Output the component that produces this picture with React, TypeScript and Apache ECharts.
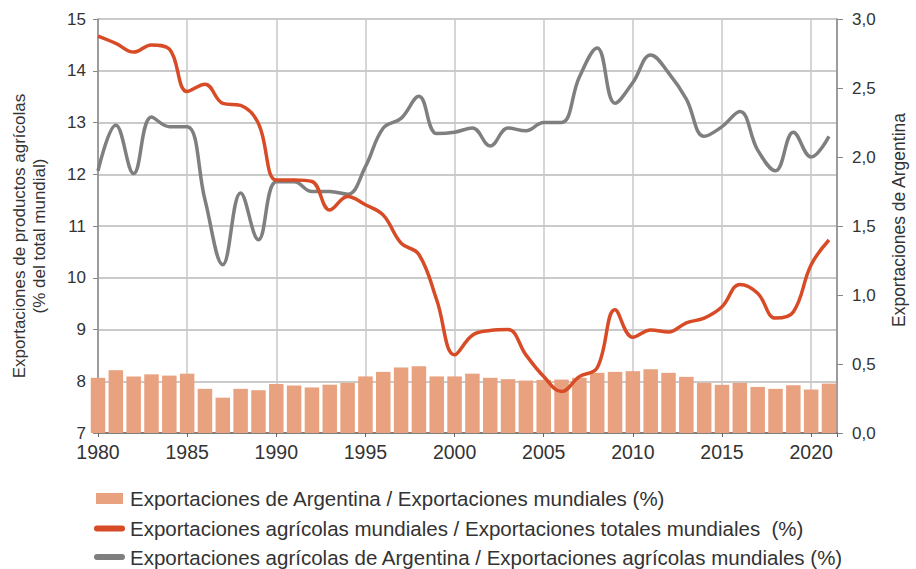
import React, { useEffect, useRef } from "react";
import * as echarts from "echarts";

const years = [
  1980, 1981, 1982, 1983, 1984, 1985, 1986, 1987, 1988, 1989,
  1990, 1991, 1992, 1993, 1994, 1995, 1996, 1997, 1998, 1999,
  2000, 2001, 2002, 2003, 2004, 2005, 2006, 2007, 2008, 2009,
  2010, 2011, 2012, 2013, 2014, 2015, 2016, 2017, 2018, 2019,
  2020, 2021,
];

// Exportaciones de Argentina / Exportaciones mundiales (%) — right axis
const argShare = [
  0.40, 0.455, 0.41, 0.425, 0.416, 0.43, 0.32, 0.256, 0.32, 0.31,
  0.355, 0.344, 0.33, 0.35, 0.363, 0.41, 0.443, 0.474, 0.484, 0.41,
  0.41, 0.43, 0.40, 0.39, 0.38, 0.385, 0.387, 0.40, 0.436, 0.443,
  0.448, 0.462, 0.436, 0.407, 0.363, 0.349, 0.363, 0.334, 0.32, 0.346,
  0.315, 0.358,
];

// Exportaciones agrícolas mundiales / Exportaciones totales mundiales (%) — left axis
const worldAgShare = [
  14.67, 14.53, 14.36, 14.5, 14.42, 13.6, 13.74, 13.37, 13.33, 12.98,
  11.89, 11.89, 11.86, 11.31, 11.57, 11.41, 11.21, 10.67, 10.45, 9.57,
  8.51, 8.89, 8.98, 9.0, 8.51, 8.09, 7.8, 8.09, 8.26, 9.38,
  8.85, 8.99, 8.95, 9.13, 9.22, 9.44, 9.87, 9.7, 9.22, 9.34,
  10.25, 10.73,
];

// Exportaciones agrícolas de Argentina / Exportaciones agrícolas mundiales (%) — right axis
const argAgShare = [
  1.9, 2.23, 1.88, 2.29, 2.22, 2.22, 1.69, 1.22, 1.74, 1.4,
  1.82, 1.82, 1.75, 1.75, 1.73, 1.93, 2.21, 2.28, 2.44, 2.17,
  2.18, 2.21, 2.08, 2.21, 2.19, 2.25, 2.25, 2.58, 2.79, 2.39,
  2.54, 2.74, 2.61, 2.42, 2.15, 2.22, 2.33, 2.05, 1.9, 2.18,
  2.0, 2.15,
];

const seriesNames = [
  "Exportaciones de Argentina / Exportaciones mundiales (%)",
  "Exportaciones agrícolas mundiales / Exportaciones totales mundiales  (%)",
  "Exportaciones agrícolas de Argentina / Exportaciones agrícolas mundiales (%)",
];

const leftAxisName = "Exportaciones de productos agrícolas\n(% del total mundial)";
const rightAxisName = "Exportaciones de Argentina";

const FONT = "'Liberation Sans', Arial, sans-serif";
const TEXT = "#333333";
const BAR = "#e8a27f";
const RED = "#d84b27";
const GRAY = "#7f7f7f";
const LINE_ICON = "path://M3,0 L28,0 A3,3 0 0 1 28,6 L3,6 A3,3 0 0 1 3,0 Z";

export default function App() {
  const ref = useRef<HTMLDivElement>(null);
  useEffect(() => {
    if (!ref.current) return;
    const chart = echarts.init(ref.current, null, { renderer: "svg" });
    const pair = (vals: number[]) => years.map((y, i) => [y, vals[i]]);
    const legendText = { fontFamily: FONT, fontSize: 20.5, color: TEXT, lineHeight: 21 };
    chart.setOption({
      animation: false,
      textStyle: { fontFamily: FONT, color: TEXT },
      grid: { left: 98, right: 67, top: 19, bottom: 136 },
      legend: [
        {
          left: 91,
          top: 483,
          itemWidth: 27,
          itemHeight: 11,
          textStyle: { ...legendText, padding: [0, 0, 0, 2] },
          data: [{ name: seriesNames[0], icon: "rect" }],
        },
        {
          left: 89,
          top: 513,
          itemWidth: 31,
          itemHeight: 6,
          textStyle: { ...legendText, padding: [0, 0, 0, 0] },
          data: [{ name: seriesNames[1], icon: LINE_ICON }],
        },
        {
          left: 89,
          top: 541.5,
          itemWidth: 31,
          itemHeight: 6,
          textStyle: { ...legendText, padding: [0, 0, 0, 0] },
          data: [{ name: seriesNames[2], icon: LINE_ICON }],
        },
      ],
      xAxis: {
        type: "value",
        min: 1980,
        max: 2021.45,
        interval: 5,
        axisLine: { show: true, lineStyle: { color: "#666", width: 1.5 } },
        axisTick: { show: true, length: 4, lineStyle: { color: "#666" } },
        axisLabel: {
          fontFamily: FONT,
          fontSize: 19.5,
          color: TEXT,
          margin: 9,
          formatter: (v: number) => (Number.isInteger(v) && v % 5 === 0 ? String(v) : ""),
        },
        splitLine: { show: true, lineStyle: { color: "#c8c8c8", width: 1.5 } },
      },
      yAxis: [
        {
          type: "value",
          min: 7,
          max: 15,
          interval: 1,
          position: "left",
          name: leftAxisName,
          nameLocation: "middle",
          nameGap: 49,
          nameTextStyle: { fontFamily: FONT, fontSize: 17, color: TEXT, lineHeight: 20, padding: [0, 20, 0, 0] },
          axisLine: { show: true, lineStyle: { color: "#888", width: 1.5 } },
          axisTick: { show: true, length: 5, lineStyle: { color: "#888" } },
          axisLabel: { fontFamily: FONT, fontSize: 17, color: TEXT, margin: 12 },
          splitLine: { show: true, lineStyle: { color: "#b8b8b8", width: 1.5 } },
        },
        {
          type: "value",
          min: 0,
          max: 3,
          interval: 0.5,
          position: "right",
          name: rightAxisName,
          nameLocation: "middle",
          nameGap: 53,
          nameTextStyle: { fontFamily: FONT, fontSize: 17.5, color: TEXT, padding: [0, 0, 0, 12] },
          axisLine: { show: true, lineStyle: { color: "#888", width: 1.5 } },
          axisTick: { show: true, length: 6, lineStyle: { color: "#888" } },
          axisLabel: {
            fontFamily: FONT,
            fontSize: 17,
            color: TEXT,
            margin: 15,
            formatter: (v: number) => v.toFixed(1).replace(".", ","),
          },
          splitLine: { show: false },
        },
      ],
      series: [
        {
          name: seriesNames[0],
          type: "bar",
          yAxisIndex: 1,
          barWidth: 14.5,
          itemStyle: { color: BAR },
          data: pair(argShare),
          z: 2,
        },
        {
          name: seriesNames[1],
          type: "line",
          yAxisIndex: 0,
          smooth: 0.4,
          symbol: "none",
          lineStyle: { color: RED, width: 3.5 },
          itemStyle: { color: RED },
          data: pair(worldAgShare),
          z: 4,
        },
        {
          name: seriesNames[2],
          type: "line",
          yAxisIndex: 1,
          smooth: 0.4,
          symbol: "none",
          lineStyle: { color: GRAY, width: 3.5 },
          itemStyle: { color: GRAY },
          data: pair(argAgShare),
          z: 3,
        },
      ],
    });
    return () => chart.dispose();
  }, []);
  return (
    <div
      ref={ref}
      style={{ position: "fixed", left: 0, top: 0, width: 916, height: 569, background: "#fff" }}
    />
  );
}
